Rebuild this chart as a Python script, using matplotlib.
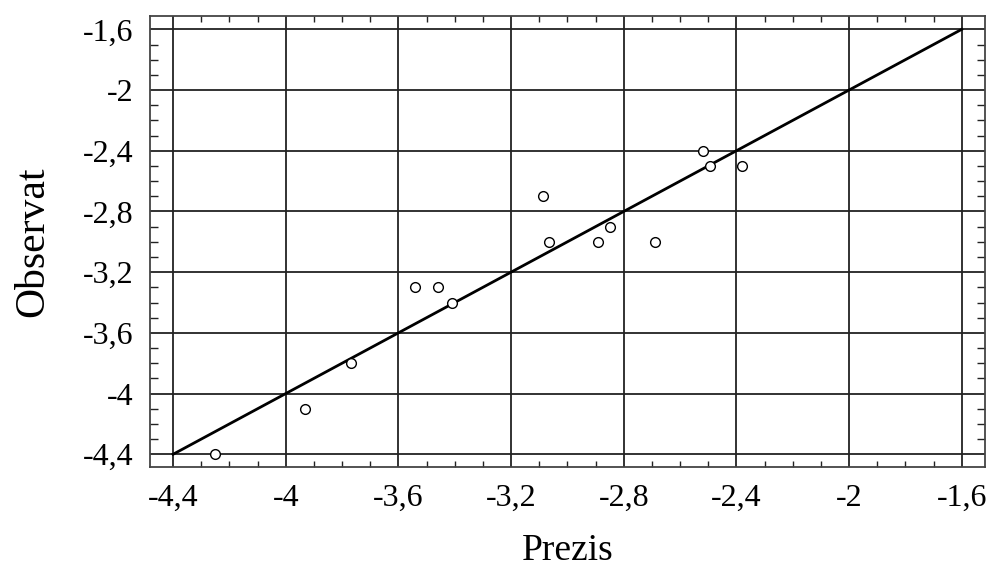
import matplotlib
matplotlib.use("Agg")
import matplotlib.pyplot as plt
import numpy as np

prezis = [-4.25, -3.93, -3.77, -3.54, -3.46, -3.41, -3.085, -3.065,
          -2.89, -2.85, -2.69, -2.52, -2.495, -2.38]
observat = [-4.4, -4.1, -3.8, -3.3, -3.3, -3.4, -2.7, -3.0,
            -3.0, -2.9, -3.0, -2.4, -2.5, -2.5]

ticks = [-4.4, -4.0, -3.6, -3.2, -2.8, -2.4, -2.0, -1.6]
tick_labels = ["-4,4", "-4", "-3,6", "-3,2", "-2,8", "-2,4", "-2", "-1,6"]
line_ends = [-4.4, -1.6]

plt.rcParams['font.family'] = ['Liberation Serif', 'DejaVu Serif']

fig = plt.figure(figsize=(9.9, 5.69), dpi=100)
ax = fig.add_axes([0.1515, 0.1787, 0.8435, 0.7937])

ax.plot(line_ends, line_ends, color='black', lw=2, zorder=3)
ax.plot(prezis, observat, 'o', ms=7, mfc='white', mec='black', mew=1, zorder=4)

ax.set_xlim(-4.482, -1.517)
ax.set_ylim(-4.486, -1.51)
ax.set_xticks(ticks)
ax.set_xticklabels(tick_labels)
ax.set_yticks(ticks)
ax.set_yticklabels(tick_labels)
ax.set_xticks(np.arange(-4.4, -1.55, 0.1), minor=True)
ax.set_yticks(np.arange(-4.4, -1.55, 0.1), minor=True)

ax.grid(True, which='major', color='#222222', lw=1.3, zorder=1)
ax.tick_params(which='major', length=0, labelsize=23, pad=12)
ax.tick_params(axis='x', which='minor', direction='in', length=4, width=1,
               top=True, bottom=True, color='#222222')
ax.tick_params(axis='y', which='minor', direction='in', length=6, width=1,
               left=True, right=True, color='#222222')
for s in ax.spines.values():
    s.set_color('#444444')
    s.set_linewidth(1.3)

ax.set_xlabel('Prezis', fontsize=27, labelpad=15)
ax.set_ylabel('Observat', fontsize=30, labelpad=22)

fig.savefig('out.png', dpi=100)
